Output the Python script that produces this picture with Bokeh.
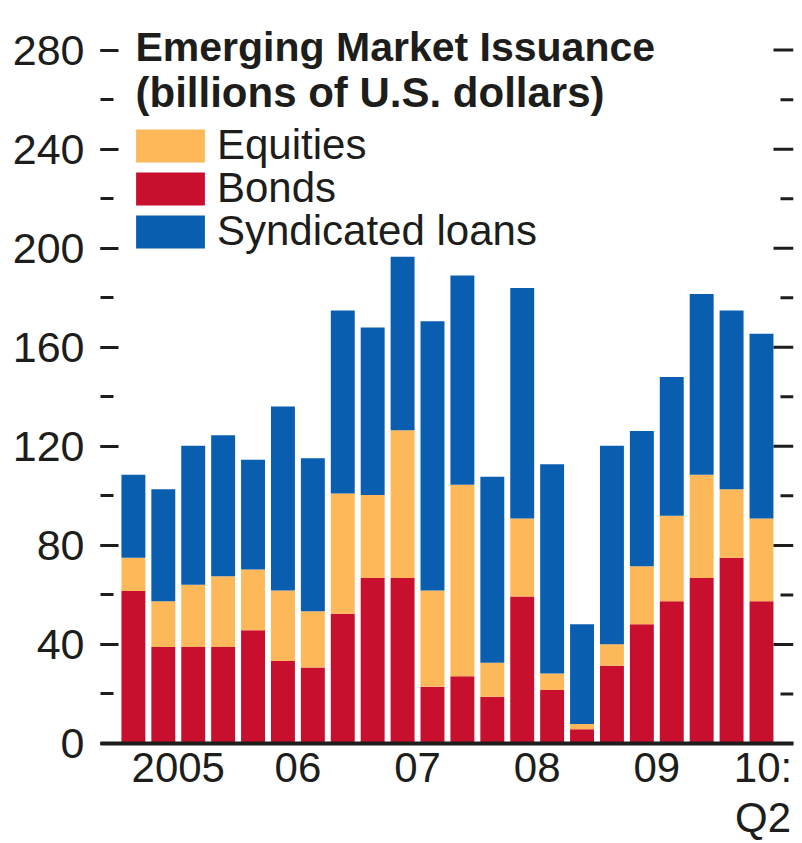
from bokeh.plotting import figure
from bokeh.models import (ColumnDataSource, FixedTicker, SingleIntervalTicker, LinearAxis,
                          Legend, LegendItem, Label, Range1d)
from bokeh.embed import file_html
from bokeh.resources import INLINE

# ---- data (billions of U.S. dollars) ----
quarters = ["2005Q1", "2005Q2", "2005Q3", "2005Q4",
            "2006Q1", "2006Q2", "2006Q3", "2006Q4",
            "2007Q1", "2007Q2", "2007Q3", "2007Q4",
            "2008Q1", "2008Q2", "2008Q3", "2008Q4",
            "2009Q1", "2009Q2", "2009Q3", "2009Q4",
            "2010Q1", "2010Q2"]
bonds = [61.6, 39.0, 39.0, 39.0, 45.7, 33.3, 30.7, 52.4, 66.8, 66.8, 22.9,
         27.2, 18.9, 59.4, 21.6, 5.8, 31.4, 48.2, 57.4, 66.8, 75.0, 57.4]
equities = [13.4, 18.4, 25.1, 28.5, 24.6, 28.5, 22.7, 48.6, 33.5, 59.7, 38.9,
            77.3, 13.7, 31.5, 6.7, 2.1, 8.7, 23.4, 34.6, 41.7, 27.7, 33.5]
loans = [33.5, 45.3, 56.1, 57.0, 44.3, 74.3, 61.8, 73.9, 67.7, 70.1, 108.7,
         84.5, 75.1, 93.0, 84.5, 40.3, 80.1, 54.6, 56.0, 73.0, 72.2, 74.6]
year_labels = ["2005", "06", "07", "08", "09", "10:"]
last_sublabel = "Q2"
series_names = ["Equities", "Bonds", "Syndicated loans"]

RED = "#C8102E"
ORANGE = "#FDB85A"
BLUE = "#0A5EAF"
INK = "#1d1d1b"
FONT = "Liberation Sans"

W, H = 801, 843
BL, BR, BT, BB = 100, 8, 10, 97
X0, X1 = -1.1, 22.07
Y0, Y1 = 0, 296

xs = list(range(len(quarters)))
src = ColumnDataSource(dict(x=xs, bonds=bonds, equities=equities, loans=loans))

p = figure(width=W, height=H, output_backend="svg", toolbar_location=None,
           x_range=Range1d(X0, X1), y_range=Range1d(Y0, Y1),
           min_border_left=BL, min_border_right=BR, min_border_top=BT, min_border_bottom=BB)
p.outline_line_color = None
p.xgrid.grid_line_color = None
p.ygrid.grid_line_color = None
p.background_fill_color = "white"

rs = p.vbar_stack(["bonds", "equities", "loans"], x="x", width=0.8,
                  fill_color=[RED, ORANGE, BLUE], line_color=None, source=src)
r_bonds, r_eq, r_loans = rs

# y axis (left)
ya = p.yaxis[0]
ya.ticker = SingleIntervalTicker(interval=40, num_minor_ticks=2)
ya.axis_line_color = None
ya.major_tick_in = 18
ya.major_tick_out = 0
ya.minor_tick_in = 13
ya.minor_tick_out = 0
ya.major_tick_line_width = 3
ya.minor_tick_line_width = 3
ya.major_tick_line_color = INK
ya.minor_tick_line_color = INK
ya.major_label_standoff = 16
ya.major_label_text_font = FONT
ya.major_label_text_font_size = "43px"
ya.major_label_text_color = INK

# right-hand inward tick marks (same tick values as the left axis)
px_per_x = (W - BL - BR) / (X1 - X0)
major_vals = list(range(0, 281, 40))
minor_vals = [v for v in range(0, 281, 20) if v % 40]
p.segment(x0=[X1] * len(major_vals), x1=[X1 - 20 / px_per_x] * len(major_vals),
          y0=major_vals, y1=major_vals, line_color=INK, line_width=3)
p.segment(x0=[X1] * len(minor_vals), x1=[X1 - 13 / px_per_x] * len(minor_vals),
          y0=minor_vals, y1=minor_vals, line_color=INK, line_width=3)

# x axis: year labels centred under each year's quarters
year_of = [q[:4] for q in quarters]
years = sorted(set(year_of))
ticks = []
for i, yr in enumerate(years):
    idx = [k for k, v in enumerate(year_of) if v == yr]
    if i < len(years) - 1:
        ticks.append(sum(idx) / len(idx))
    else:
        ticks.append(idx[-1] + 0.05)


def style_x(ax, standoff):
    ax.major_tick_line_color = None
    ax.minor_tick_line_color = None
    ax.major_tick_in = 0
    ax.major_tick_out = 0
    ax.minor_tick_in = 0
    ax.minor_tick_out = 0
    ax.major_label_standoff = standoff
    ax.major_label_text_font = FONT
    ax.major_label_text_font_size = "42px"
    ax.major_label_text_color = INK


xa = p.xaxis[0]
xa.ticker = FixedTicker(ticks=ticks, minor_ticks=[])
xa.major_label_overrides = {t: lab for t, lab in zip(ticks, year_labels)}
xa.axis_line_width = 4
xa.axis_line_color = INK
style_x(xa, 0)

# second line of the last label ("Q2")
xa2 = LinearAxis(ticker=FixedTicker(ticks=[ticks[-1]], minor_ticks=[]))
xa2.major_label_overrides = {ticks[-1]: last_sublabel}
xa2.axis_line_color = None
style_x(xa2, 0)
p.add_layout(xa2, "below")

# title inside plot
p.add_layout(Label(x=35, y=281.3, x_units="screen", y_units="data",
                   text="Emerging Market Issuance", text_font=FONT,
                   text_font_style="bold", text_font_size="41px",
                   text_color=INK, text_baseline="alphabetic"))
p.add_layout(Label(x=35, y=262.8, x_units="screen", y_units="data",
                   text="(billions of U.S. dollars)", text_font=FONT,
                   text_font_style="bold", text_font_size="42px",
                   text_color=INK, text_baseline="alphabetic"))

# legend: one box per entry so the rows can sit close together
legend_rows = [(series_names[0], r_eq), (series_names[1], r_bonds), (series_names[2], r_loans)]
row_pitch = 43
first_bottom = 574
for k, (name, rend) in enumerate(legend_rows):
    lg = Legend(items=[LegendItem(label=name, renderers=[rend])],
                location=(27, first_bottom - k * row_pitch), orientation="vertical",
                glyph_width=86, glyph_height=41, label_height=33,
                label_standoff=4, spacing=0, padding=0, margin=0,
                border_line_color=None, background_fill_alpha=0,
                label_text_font=FONT, label_text_font_size="42px",
                label_text_color=INK)
    p.add_layout(lg)

open("out.html", "w").write(file_html(p, INLINE))
